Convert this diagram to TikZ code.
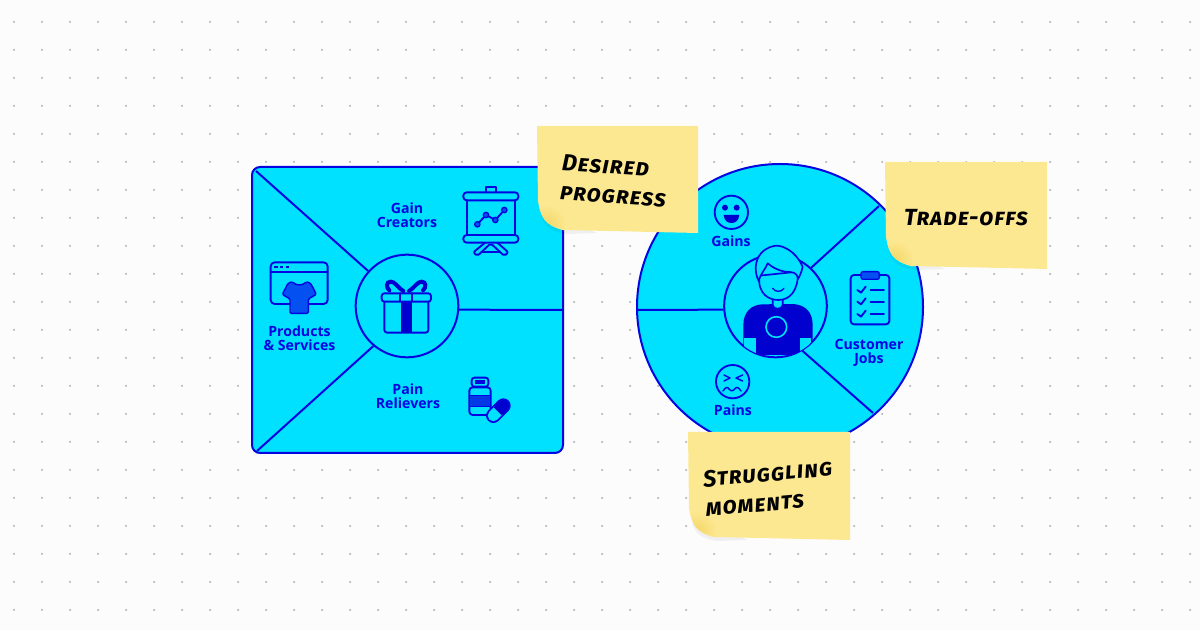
\documentclass[tikz,border=0pt]{standalone}
\usepackage{fontspec}
\setmainfont{Open Sans}
\newfontfamily\handfont[Letters=SmallCaps,LetterSpace=4]{Fira Sans}
\definecolor{bgc}{HTML}{FCFCFD}
\definecolor{dotc}{HTML}{A2A4A8}
\definecolor{cy}{HTML}{00E1FF}
\definecolor{ink}{HTML}{0505E0}
\definecolor{deep}{HTML}{0000CF}
\definecolor{shirt}{HTML}{0450F0}
\definecolor{note}{HTML}{FDE892}
\definecolor{noted}{HTML}{F3D767}
\tikzset{
  px/.style={x=0.75pt,y=-0.75pt},
  zoomed/.style={x=0.25pt,y=-0.25pt},
  ln/.style={draw=ink,line width=1.5pt},
  ic/.style={draw=ink,line width=1.4pt,line join=round,line cap=round},
  lab/.style={text=ink,font=\fontsize{10.6}{10.5}\selectfont\bfseries,align=center,inner sep=0pt},
  hub/.style={circle,draw=ink,line width=1.5pt,minimum size=77pt,inner sep=0pt},
  hand/.style={text=black,font=\fontsize{17.5}{22}\selectfont\handfont\bfseries\itshape,align=left,inner sep=0pt},
}
\newcommand{\stickynote}[4]{%
  \begin{scope}[shift={(#1,#2)}]
    \fill[black,opacity=.05] (3,{#4-26}) .. controls (4,{#4-8}) and (12,{#4-1}) .. (30,{#4+1}) -- (60,{#4}) -- cycle;
    \fill[note] (0,0) -- (#3,0) -- (#3,#4) -- (26,{#4-3}) .. controls (8,{#4-8}) and (4,{#4-15}) .. (1,{#4-32}) -- cycle;
    \begin{scope}
      \clip (0,0) -- (#3,0) -- (#3,#4) -- (26,{#4-3}) .. controls (8,{#4-8}) and (4,{#4-15}) .. (1,{#4-32}) -- cycle;
      \shade[inner color=noted,outer color=note] (9,{#4-9}) circle[radius=20];
    \end{scope}
  \end{scope}}
\begin{document}
\begin{tikzpicture}[px]
\useasboundingbox (0,0) rectangle (1200,630);
\fill[bgc] (0,0) rectangle (1200,630);
\foreach \i in {0,...,42}{\foreach \j in {0,...,21}{\fill[dotc] ({14+28*\i},{22+28*\j}) circle[radius=1];}}

% left canvas
\path[fill=cy,ln,rounded corners=6pt] (252,167) rectangle (563,453);
\node[hub] (vp) at (407,306) {};
\coordinate (tl) at (256,171);
\coordinate (bl) at (257,451);
\coordinate (mr) at (563,310);
\draw[ln] (tl) -- (vp.138);
\draw[ln] (bl) -- (vp.230);
\draw[ln] (vp.-4.500) -- (mr);
\node[lab] (gc) at (407,215) {Gain\\Creators};
\node[lab] (ps) at (299.500,338) {Products\\\&~Services};
\node[lab] (pr) at (408,396) {Pain\\Relievers};

\begin{scope}[shift={(240,155)},zoomed]
  % presentation board
  \draw[ic] (738,110) -- (738,97) -- (768,97) -- (768,110);
  \draw[ic,rounded corners=2.5pt] (670,112) rectangle (835,136);
  \draw[ic] (680,136) -- (680,240) (825,136) -- (825,240);
  \draw[ic,rounded corners=2.5pt] (670,240) rectangle (835,263);
  \draw[ic,rounded corners=1.5pt] (735,263) -- (700,292) -- (712,303) -- (752,265) -- (793,303) -- (805,292) -- (772,263);
  \draw[ic] (728,290) -- (778,290);
  \draw[ic] (712,208) -- (738,180) -- (766,195) -- (793,165);
  \foreach \p in {(712,208),(738,180),(766,195),(793,165)}{\fill[shirt] \p circle[radius=8];\draw[ink,line width=1pt] \p circle[radius=8];}
  % window with shirt
  \draw[ic,rounded corners=3pt] (92,322) rectangle (263,447);
  \draw[ic] (92,352) -- (263,352);
  \foreach \q in {108,125,143}{\fill[ink] (\q-5,333) rectangle (\q+5,339);}
  \filldraw[shirt,draw=ink,line width=1.1pt,line join=round,rounded corners=1pt] (157,380) .. controls (168,392) and (188,392) .. (199,380) -- (212,385) -- (229,418) -- (205,432) -- (205,475) -- (150,475) -- (150,432) -- (127,418) -- (144,385) -- cycle;
  % gift
  \draw[ic,rounded corners=2pt] (433,440) -- (433,533) -- (565,533) -- (565,440);
  \fill[deep] (482,440) rectangle (515,533);
  \draw[ic,rounded corners=2pt] (425,415) rectangle (573,440);
  \draw[ic] (480,415) -- (480,440) (517,415) -- (517,440);
  \draw[deep,line width=3pt,line cap=round] (490,408) .. controls (470,395) and (465,380) .. (452,380) .. controls (438,380) and (438,398) .. (448,406);
  \draw[deep,line width=3pt,line cap=round] (507,408) .. controls (527,395) and (532,380) .. (545,380) .. controls (559,380) and (559,398) .. (549,406);
  % pills
  \draw[ic,rounded corners=2pt] (695,668) rectangle (745,695);
  \draw[ink,line width=.8pt] (705,678) -- (735,678) (705,684) -- (735,684);
  \draw[ic,rounded corners=2.5pt] (688,697) rectangle (752,780);
  \fill[shirt!70!deep,draw=ink,line width=1pt] (688,722) rectangle (752,755);
  \draw[ink,line width=11pt,line cap=round] (760,782) -- (790,752);
  \draw[cy,line width=8.4pt,line cap=round] (760,782) -- (775,767);
  \draw[deep,line width=8.4pt] (773,769) -- (790,752);
  \draw[deep,line width=8.4pt,line cap=round] (789,753) -- (790,752);
\end{scope}

% right circle
\node[hub,fill=cy,minimum size=214.500pt] (cust) at (780,307) {};
\node[hub] (per) at (775.500,306) {};
\coordinate (ml) at (637,310);
\coordinate (ur) at (879,206);
\coordinate (lr) at (873,413);
\draw[ln] (ml) -- (per.184.500);
\draw[ln] (per.47) -- (ur);
\draw[ln] (per.-59) -- (lr);
\node[lab] (gains) at (731,241) {Gains};
\node[lab] (pains) at (733,410) {Pains};
\node[lab] (cj) at (869,353) {Customer\\Jobs};

\begin{scope}[shift={(630,155)},zoomed]
  % smile
  \draw[ic] (304,172) circle[radius=50];
  \fill[deep] (285,158) circle[radius=9] (320,158) circle[radius=9];
  \fill[deep] (281,180) -- (328,180) .. controls (326,198) and (315,204) .. (305,204) .. controls (293,204) and (283,198) .. (281,180) -- cycle;
  % pain
  \draw[ic] (308,680) circle[radius=50];
  \draw[ic,line width=1.1pt] (282,660) -- (300,669) -- (282,678) (338,660) -- (318,669) -- (338,678);
  \draw[ic,line width=1.1pt] (279,708) .. controls (288,695) and (292,695) .. (297,702) .. controls (303,709) and (308,709) .. (314,702) .. controls (320,695) and (324,695) .. (333,708);
  % clipboard
  \draw[ic,rounded corners=2.5pt] (662,360) rectangle (778,508);
  \filldraw[shirt,draw=ink,line width=1pt,rounded corners=1.5pt] (693,350) rectangle (748,373);
  \foreach \c in {405,440,477}{
    \draw[ic] (682,\c) -- (693,{\c+8}) -- (707,{\c-10});
    \draw[ic] (722,\c) -- (762,\c);
  }
  % person
  \begin{scope}
    \clip (437,452) circle[radius=154];
    \fill[deep] (340,600) -- (340,510) .. controls (340,470) and (365,450) .. (395,448) -- (490,447) .. controls (525,450) and (548,470) .. (548,510) -- (548,600) -- cycle;
    \fill[cy] (343,548) rectangle (377,600);
    \fill[cy] (510,548) rectangle (543,600);
  \end{scope}
  \draw[cy,line width=1.2pt] (439,516) circle[radius=31];
  \filldraw[fill=cy,draw=ink,line width=1.25pt,line join=round] (428,425) -- (428,450) .. controls (430,465) and (456,465) .. (458,450) -- (458,425) -- cycle;
  \filldraw[fill=cy,draw=ink,line width=1.25pt] (388,362) .. controls (382,420) and (420,435) .. (445,435) .. controls (478,435) and (505,410) .. (504,350) -- cycle;
  \filldraw[fill=cy,draw=ink,line width=1.25pt,line join=round] (386,378) .. controls (372,350) and (375,315) .. (393,295) .. controls (408,278) and (428,272) .. (442,272) .. controls (470,275) and (495,295) .. (510,320) -- (518,335) .. controls (515,350) and (510,362) .. (504,372) .. controls (500,350) and (490,352) .. (465,350) .. controls (440,345) and (425,335) .. (413,325) .. controls (405,345) and (392,355) .. (386,378) -- cycle;
  \draw[ic,line width=1pt] (428,400) .. controls (436,412) and (454,412) .. (462,400);
\end{scope}

% sticky notes
\stickynote{537}{126}{161}{107}
\stickynote{885}{162}{162}{107}
\stickynote{688}{432}{162}{108}
\node[hand,rotate=-4] (n1) at (614,181) {Desired\\progress};
\node[hand,rotate=0] (n2) at (966,218) {Trade-offs};
\node[hand,rotate=5] (n3) at (769,488) {Struggling\\moments};
\end{tikzpicture}
\end{document}
